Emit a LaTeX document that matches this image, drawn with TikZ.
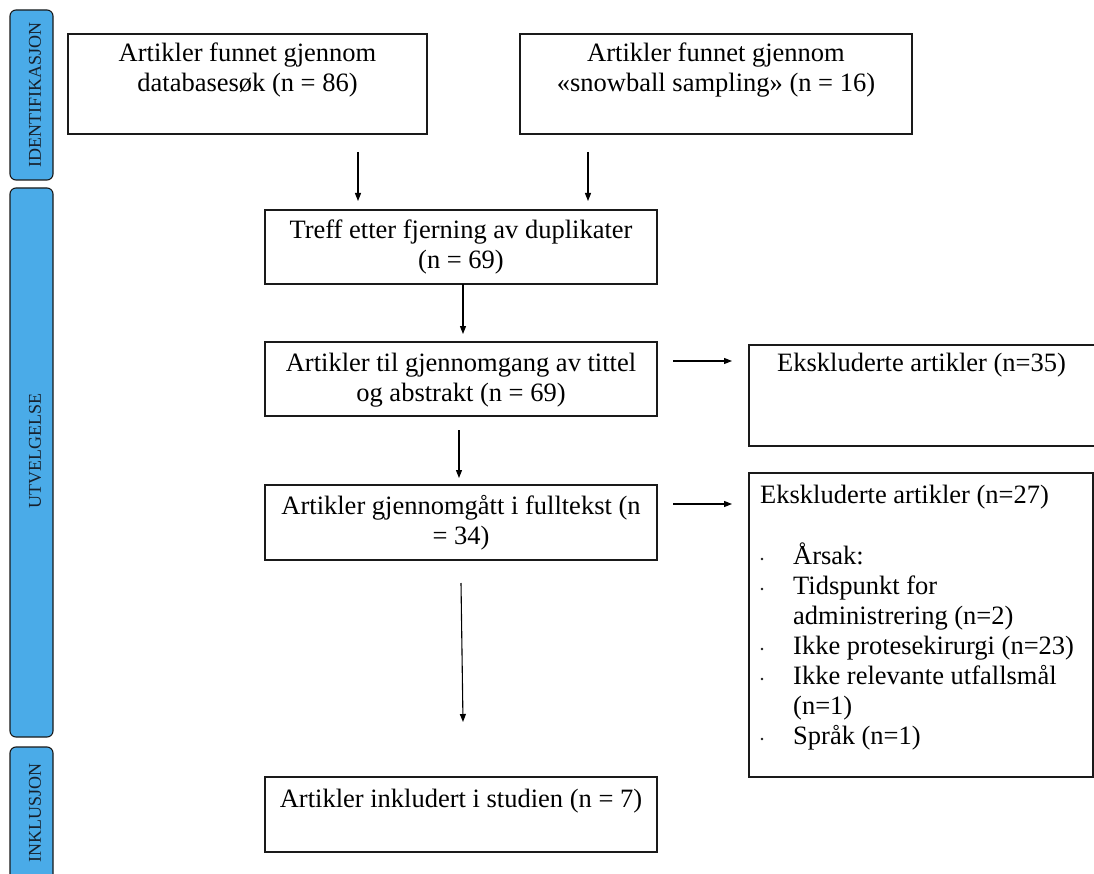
\documentclass[tikz,border=0pt]{standalone}
\usepackage{fontspec}
\setmainfont{Liberation Serif}
\usetikzlibrary{arrows.meta}
\definecolor{barblue}{HTML}{4AABE8}
\definecolor{edge}{HTML}{1A1A1A}
\definecolor{bartext}{HTML}{16202B}
\begin{document}
\begin{tikzpicture}[x=1pt,y=-1pt,
  box/.style={draw=edge,line width=1.6pt,inner sep=0pt,outer sep=0pt},
  bar/.style={draw=edge,fill=barblue,line width=1.1pt,rounded corners=6pt,inner sep=0pt},
  txt/.style={font=\fontsize{26.5}{30}\selectfont,inner sep=0pt,align=center,anchor=north},
  ltxt/.style={font=\fontsize{26.5}{30}\selectfont,inner sep=0pt,align=left},
  bartxt/.style={font=\fontsize{18}{20}\selectfont,rotate=90,inner sep=0pt,text=bartext},
  arr/.style={line width=1.1pt,-{Triangle[length=8pt,width=6pt]}},
]
\useasboundingbox (0,0) rectangle (1094,874);
\fill[white] (0,0) rectangle (1094,874);

% side bars
\node[bar,minimum width=43pt,minimum height=170pt] (idbar) at (31.5,95) {};
\node[bartxt] (idtxt) at (35,95) {IDENTIFIKASJON};
\node[bar,minimum width=43pt,minimum height=549pt] (utbar) at (31.5,462.5) {};
\node[bartxt] (uttxt) at (35,451) {UTVELGELSE};
\node[bar,minimum width=43pt,minimum height=160pt] (inbar) at (31.5,827) {};
\node[bartxt] (intxt) at (35,813) {INKLUSJON};

% boxes
\node[box,minimum width=359pt,minimum height=100pt] (A) at (247.5,84) {};
\node[txt] (At) at (247.5,40) {\strut Artikler funnet gjennom\\databasesøk (n = 86)};
\node[box,minimum width=392pt,minimum height=100pt] (B) at (716,84) {};
\node[txt] (Bt) at (716,40) {\strut Artikler funnet gjennom\\«snowball sampling» (n = 16)};
\node[box,minimum width=392pt,minimum height=74pt] (C) at (461,247) {};
\node[txt] (Ct) at (461,217) {\strut Treff etter fjerning av duplikater\\(n = 69)};
\node[box,minimum width=392pt,minimum height=74pt] (D) at (461,379) {};
\node[txt] (Dt) at (461,350) {\strut Artikler til gjennomgang av tittel\\og abstrakt (n = 69)};
\node[box,minimum width=361pt,minimum height=101pt] (E) at (929.5,395.5) {};
\node[ltxt,anchor=base west] (Et) at (777,371) {Ekskluderte artikler (n=35)};
\node[box,minimum width=344pt,minimum height=304pt] (G) at (921,625) {};
\node[ltxt,anchor=base west] (Gt) at (760,503) {Ekskluderte artikler (n=27)};
\node[ltxt,anchor=north west] (Gl) at (793,543) {\strut Årsak:\\Tidspunkt for\\administrering (n=2)\\Ikke protesekirurgi (n=23)\\Ikke relevante utfallsmål\\(n=1)\\Språk (n=1)};
\foreach \yy in {559,589,649,679,739} \fill[edge] (762,\yy) circle (1.3pt);
\node[box,minimum width=392pt,minimum height=75pt] (F) at (461,522.5) {};
\node[txt] (Ft) at (461,493) {\strut Artikler gjennomgått i fulltekst (n\\= 34)};
\node[box,minimum width=392pt,minimum height=75pt] (H) at (461,814.5) {};
\node[txt] (Ht) at (461,786) {\strut Artikler inkludert i studien (n = 7)};

% arrows
\coordinate (p1) at (358,152); \coordinate (p2) at (358,201);
\coordinate (q1) at (588,152); \coordinate (q2) at (588,201);
\coordinate (r2) at (463,334);
\coordinate (s1) at (459,430); \coordinate (s2) at (459,478);
\coordinate (t1) at (673,361); \coordinate (t2) at (732,361);
\coordinate (u1) at (673,504); \coordinate (u2) at (732,504);
\coordinate (v1) at (461,583); \coordinate (v2) at (463,722);
\draw[arr] (p1) -- (p2);
\draw[arr] (q1) -- (q2);
\draw[arr] (C.south -| r2) -- (r2);
\draw[arr] (s1) -- (s2);
\draw[arr] (t1) -- (t2);
\draw[arr] (u1) -- (u2);
\draw[arr] (v1) -- (v2);
\end{tikzpicture}
\end{document}
